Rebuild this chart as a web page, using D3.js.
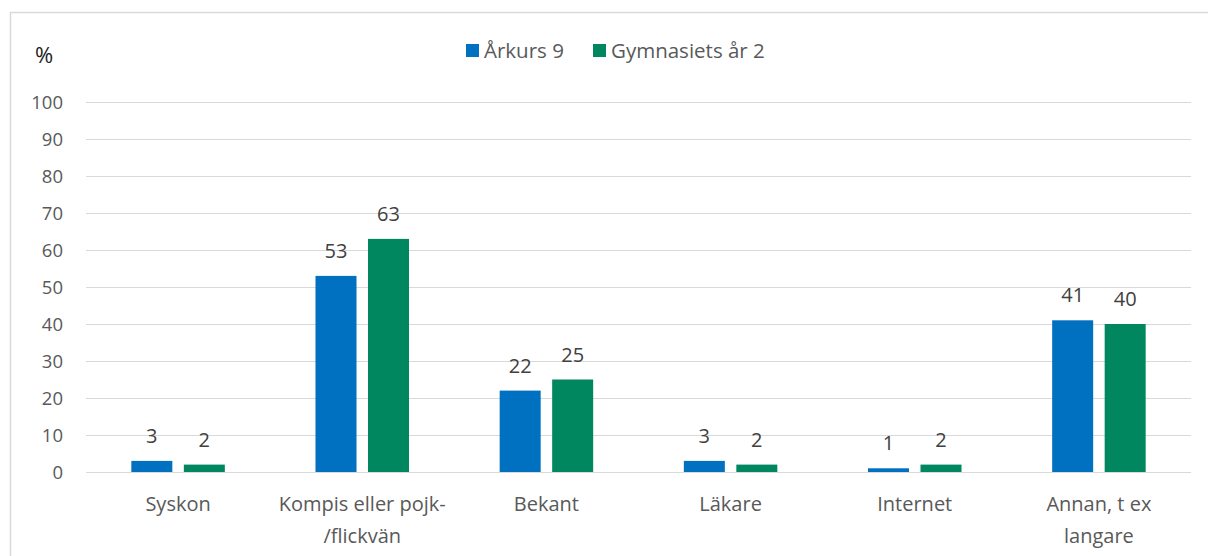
<!DOCTYPE html>
<html>
<head>
<meta charset="utf-8">
<script src="https://cdn.jsdelivr.net/npm/d3@7"></script>
<style>
body { margin: 0; background: #fff; }
text { font-family: "Open Sans", "Liberation Sans", sans-serif; }
</style>
</head>
<body>
<script>
// data
const categories = [["Syskon"], ["Kompis eller pojk-", "/flickvän"], ["Bekant"], ["Läkare"], ["Internet"], ["Annan, t ex", "langare"]];
const seriesNames = ["Årkurs 9", "Gymnasiets år 2"];
const arkurs9 = [3, 53, 22, 3, 1, 41];
const gymnasiet2 = [2, 63, 25, 2, 2, 40];
const yTicks = [0, 10, 20, 30, 40, 50, 60, 70, 80, 90, 100];
const colors = ["#0070C0", "#00875F"];

const W = 1208, H = 556;
const svg = d3.select("body").append("svg").attr("width", W).attr("height", H);

// outer chart border
svg.append("rect").attr("x", 10.5).attr("y", 12.5).attr("width", W).attr("height", H)
  .attr("fill", "none").attr("stroke", "#d9d9d9").attr("stroke-width", 1.5);

const pLeft = 86, pRight = 1191, pTop = 102, pBottom = 472;

const x = d3.scaleBand().domain(d3.range(categories.length)).range([pLeft, pRight]);
const y = d3.scaleLinear().domain([0, 100]).range([pBottom, pTop]);

// gridlines
svg.append("g").selectAll("line").data(yTicks).join("line")
  .attr("x1", pLeft).attr("x2", pRight)
  .attr("y1", d => y(d) + 0.5).attr("y2", d => y(d) + 0.5)
  .attr("stroke", "#d9d9d9").attr("stroke-width", 1.2);

// y labels
svg.append("g").selectAll("text").data(yTicks).join("text")
  .attr("x", 63).attr("y", d => y(d)).attr("dy", "0.36em")
  .attr("text-anchor", "end").attr("font-size", 18.5).attr("fill", "#595959")
  .text(d => d);

svg.append("text").attr("x", 35).attr("y", 63).attr("font-size", 22).attr("fill", "#222").text("%");

const barW = 41, gap = 11.5;
const series = [arkurs9, gymnasiet2];
series.forEach((vals, s) => {
  const off = s === 0 ? -gap / 2 - barW : gap / 2;
  const g = svg.append("g");
  g.selectAll("rect").data(vals).join("rect")
    .attr("x", (d, i) => x(i) + x.bandwidth() / 2 + off)
    .attr("y", d => y(d)).attr("width", barW)
    .attr("height", d => y(0) - y(d))
    .attr("fill", colors[s]);
  g.selectAll("text").data(vals).join("text")
    .attr("x", (d, i) => x(i) + x.bandwidth() / 2 + off + barW / 2)
    .attr("y", d => y(d) - 18)
    .attr("text-anchor", "middle").attr("font-size", 20).attr("fill", "#404040")
    .text(d => d);
});

// x labels
const xl = svg.append("g").selectAll("text").data(categories).join("text")
  .attr("x", (d, i) => x(i) + x.bandwidth() / 2)
  .attr("y", 511).attr("text-anchor", "middle").attr("font-size", 20).attr("fill", "#595959");
xl.selectAll("tspan").data(d => d).join("tspan")
  .attr("x", function () { return d3.select(this.parentNode).attr("x"); })
  .attr("dy", (d, i) => i === 0 ? 0 : 32)
  .text(d => d);

// legend
const legX = [466, 593];
seriesNames.forEach((n, i) => {
  svg.append("rect").attr("x", legX[i]).attr("y", 44).attr("width", 13).attr("height", 13).attr("fill", colors[i]);
  svg.append("text").attr("x", legX[i] + 18).attr("y", 58).attr("font-size", 20.5).attr("fill", "#595959").text(n);
});
</script>
</body>
</html>
